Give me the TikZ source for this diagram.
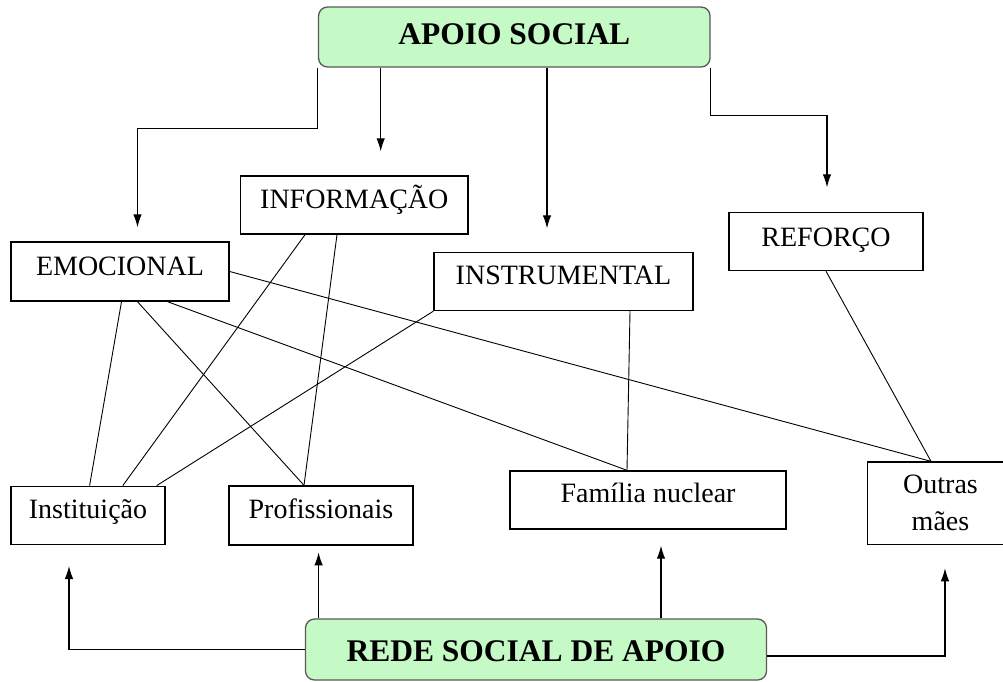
\documentclass[tikz,border=0pt]{standalone}
\usepackage{fontspec}
\setmainfont{Liberation Serif}
\usetikzlibrary{arrows.meta}
\definecolor{verde}{RGB}{197,249,197}

\begin{document}
\begin{tikzpicture}[x=1pt, y=-1pt,
  box/.style={draw, line width=1.4pt, inner xsep=0pt, inner ysep=0pt,
    text height=32pt, text depth=26pt, font=\fontsize{28}{37}\selectfont},
  big/.style={draw=black!65, fill=verde, line width=1.3pt, rounded corners=9pt,
    inner xsep=0pt, inner ysep=0pt, font=\fontsize{31.5}{38}\selectfont\bfseries},
  ln/.style={line width=0.9pt},
  arr/.style={line width=1.1pt, -{Latex[length=13pt,width=8.5pt]}}]
\useasboundingbox (0,0) rectangle (1003,681);
\node[big, minimum width=391.5pt, text height=37pt, text depth=23pt] (a) at (514.3,37) {APOIO SOCIAL};
\node[big, minimum width=461pt, text height=42.7pt, text depth=18.3pt] (r) at (536,649.5) {REDE SOCIAL DE APOIO};
\node[box, minimum width=218pt, text height=33pt] (t1) at (120,271.5) {EMOCIONAL};
\node[box, minimum width=227.4pt] (t2) at (354.3,205) {INFORMAÇÃO};
\node[box, minimum width=259pt] (t3) at (563.5,281.5) {INSTRUMENTAL};
\node[box, minimum width=194pt, text height=34pt, text depth=24pt] (t4) at (826,241.5) {REFORÇO};
\node[box, minimum width=154pt] (f1) at (88,515.3) {Instituição};
\node[box, minimum width=183.7pt, text height=32pt, text depth=27pt] (f2) at (321,515.5) {Profissionais};
\node[box, minimum width=276pt, text height=31pt, text depth=27pt] (f3) at (648,500) {Família nuclear};
\node[box, minimum width=146pt, align=center, text height=68pt, text depth=14.5pt] (f4) at (940.5,503.3) {Outras\\mães};
\draw[arr] (a.south west) -- ++(0,61) -| ([xshift=17.5pt,yshift=14pt]t1.north);
\draw[arr] (a.south -| 380.7,0) -- ([xshift=26.4pt,yshift=24pt]t2.north);
\draw[arr] (a.south -| 547,0) -- ([xshift=-16.5pt,yshift=23.5pt]t3.north);
\draw[arr] (a.south east) -- ++(0,48) -| ([xshift=1pt,yshift=24.5pt]t4.north);
\draw[arr] (r.west) -| ([xshift=-19pt,yshift=-21pt]f1.south);
\draw[arr] (r.north -| 318.6,0) -- ([xshift=-2.4pt,yshift=-6.7pt]f2.south);
\draw[arr] (r.north -| 661,0) -- ([xshift=13pt,yshift=-16pt]f3.south);
\draw[arr] ([yshift=-6.5pt]r.east) -| ([xshift=4.5pt,yshift=-23pt]f4.south);
\draw[ln] ([xshift=1.5pt]t1.south) -- ([xshift=1.6pt]f1.north);
\draw[ln] ([xshift=17.5pt]t1.south) -- ([xshift=-17pt]f2.north);
\draw[ln] ([xshift=47.6pt]t1.south) -- ([xshift=-21pt]f3.north);
\draw[ln] (t1.east) -- ([xshift=-9.5pt]f4.north);
\draw[ln] ([xshift=-49.3pt]t2.south) -- ([xshift=34.8pt]f1.north);
\draw[ln] ([xshift=-17.3pt]t2.south) -- ([xshift=-17pt]f2.north);
\draw[ln] (t3.south west) -- ([xshift=68.7pt]f1.north);
\draw[ln] ([xshift=66.5pt]t3.south) -- ([xshift=-21pt]f3.north);
\draw[ln] (t4.south) -- ([xshift=-9.5pt]f4.north);
\end{tikzpicture}
\end{document}
